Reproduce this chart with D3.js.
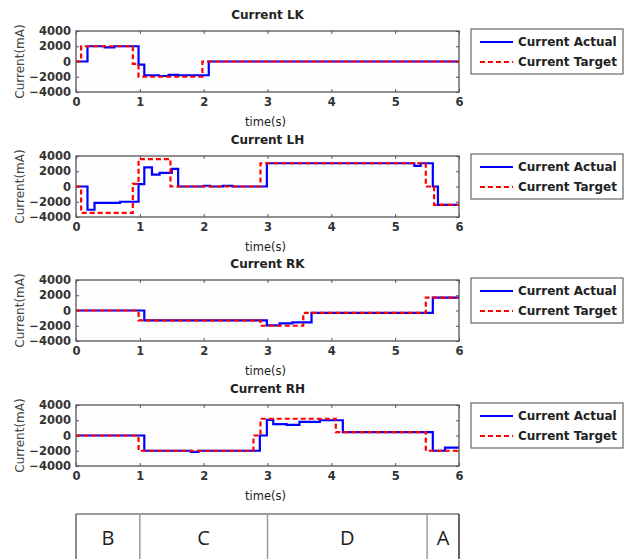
<!DOCTYPE html>
<html>
<head>
<meta charset="utf-8">
<script src="https://cdn.jsdelivr.net/npm/d3@7/dist/d3.min.js"></script>
<style>
  html, body { margin: 0; padding: 0; background: #fff; }
  svg { display: block; }
</style>
</head>
<body>
<script>
// ---- Data (step signals: [time (s), current (mA)]) ----
const panelTitles = ["Current LK", "Current LH", "Current RK", "Current RH"];
const seriesNames = ["Current Actual", "Current Target"];
const xTicks = [0, 1, 2, 3, 4, 5, 6];
const yTicks = [4000, 2000, 0, -2000, -4000];

const lkActual = [[0,0],[0.18,2000],[0.45,1850],[0.6,2000],[0.98,-400],[1.07,-1800],[1.3,-1900],[1.45,-1750],[1.6,-1800],[2.08,0],[6,0]];
const lkTarget = [[0,0],[0.08,2000],[0.89,-300],[0.98,-2000],[1.98,0],[6,0]];

const lhActual = [[0,0],[0.18,-3050],[0.29,-2150],[0.69,-2000],[0.98,300],[1.07,2500],[1.19,1550],[1.31,1800],[1.5,2300],[1.6,0],[2.0,100],[2.1,0],[2.3,100],[2.45,0],[2.99,3050],[5.3,2700],[5.4,3050],[5.59,0],[5.67,-2400],[6,-2400]];
const lhTarget = [[0,0],[0.08,-3450],[0.89,350],[0.98,3600],[1.48,0],[2.89,3050],[5.48,0],[5.61,-2400],[6,-2400]];

const rkActual = [[0,0],[1.07,-1300],[2.99,-1950],[3.19,-1700],[3.39,-1550],[3.69,-300],[5.59,1700],[6,1700]];
const rkTarget = [[0,0],[0.98,-1300],[2.89,-2000],[3.56,-300],[5.48,1700],[6,1700]];

const rhActual = [[0,0],[1.07,-2000],[1.8,-2150],[1.92,-2000],[2.88,0],[2.99,2050],[3.09,1500],[3.3,1400],[3.5,1800],[3.82,2000],[4.18,450],[5.59,-2000],[5.78,-1600],[6,-1600]];
const rhTarget = [[0,0],[0.98,-2000],[2.78,0],[2.89,2200],[4.07,450],[5.48,-2000],[6,-2000]];

const actualSeries = [lkActual, lhActual, rkActual, rhActual];
const targetSeries = [lkTarget, lhTarget, rkTarget, rhTarget];

// Phase table below the plots
const phaseLabels = ["B", "C", "D", "A"];
const phaseStarts = [0, 1, 3, 5.5];
const phaseEnds   = [1, 3, 5.5, 6];

// ---- Layout ----
const W = 635, H = 559;
const plotLeft = 76, plotRight = 459;
const panelTops = [31, 156, 280, 405];
const plotH = 61;

const svg = d3.select("body").append("svg").attr("width", W).attr("height", H)
  .style("font-family", "'DejaVu Sans', sans-serif");

const x = d3.scaleLinear().domain([0, 6]).range([plotLeft, plotRight]);

const tickColor = "#333";
const frameColor = "#555";

panelTitles.forEach((title, i) => {
  const top = panelTops[i];
  const y = d3.scaleLinear().domain([-4000, 4000]).range([top + plotH, top]);
  const g = svg.append("g");

  // plot background
  g.append("rect").attr("x", plotLeft).attr("y", top)
    .attr("width", plotRight - plotLeft).attr("height", plotH)
    .attr("fill", "#fdfdfd");

  // axes (inward ticks on all four sides)
  const axB = g.append("g").attr("transform", `translate(0,${top + plotH})`)
    .call(d3.axisBottom(x).tickValues(xTicks).tickSizeInner(-3).tickSizeOuter(0).tickPadding(7).tickFormat(d3.format("d")));
  const axT = g.append("g").attr("transform", `translate(0,${top})`)
    .call(d3.axisTop(x).tickValues(xTicks).tickSizeInner(-3).tickSizeOuter(0).tickFormat(""));
  const axL = g.append("g").attr("transform", `translate(${plotLeft},0)`)
    .call(d3.axisLeft(y).tickValues(yTicks).tickSizeInner(-3).tickSizeOuter(0).tickPadding(5).tickFormat(d3.format("d")));
  const axR = g.append("g").attr("transform", `translate(${plotRight},0)`)
    .call(d3.axisRight(y).tickValues(yTicks).tickSizeInner(-3).tickSizeOuter(0).tickFormat(""));
  [axB, axT, axL, axR].forEach(a => {
    a.select(".domain").remove();
    a.selectAll(".tick line").attr("stroke", frameColor).attr("stroke-width", 1);
    a.selectAll(".tick text").attr("fill", tickColor)
      .style("font-family", "'DejaVu Sans', sans-serif")
      .style("font-weight", "bold").style("font-size", "11.5px");
  });
  axB.selectAll(".tick text").attr("dy", "0.71em").attr("y", 6);

  // data lines
  const line = d3.line().x(d => x(d[0])).y(d => y(d[1])).curve(d3.curveStepAfter);
  g.append("path").datum(actualSeries[i]).attr("d", line)
    .attr("fill", "none").attr("stroke", "#0000ff").attr("stroke-width", 2.2);
  g.append("path").datum(targetSeries[i]).attr("d", line)
    .attr("fill", "none").attr("stroke", "#ff0000").attr("stroke-width", 2.2)
    .attr("stroke-dasharray", "5,3");

  // frame
  g.append("rect").attr("x", plotLeft).attr("y", top)
    .attr("width", plotRight - plotLeft).attr("height", plotH)
    .attr("fill", "none").attr("stroke", frameColor).attr("stroke-width", 1.3);

  // title
  g.append("text").attr("x", (plotLeft + plotRight) / 2).attr("y", top - 12)
    .attr("text-anchor", "middle").attr("fill", "#222")
    .style("font-weight", "bold").style("font-size", "12px").text(title);

  // x label
  g.append("text").attr("x", (plotLeft + plotRight) / 2 - 2).attr("y", top + plotH + 34)
    .attr("text-anchor", "middle").attr("fill", "#222")
    .style("font-size", "11.5px").text("time(s)");

  // y label
  g.append("text").attr("transform", `translate(24,${top + plotH / 2}) rotate(-90)`)
    .attr("text-anchor", "middle").attr("fill", "#444")
    .style("font-size", "12px").text("Current(mA)");

  // legend
  const lg = g.append("g").attr("transform", `translate(471,${top - 2})`);
  lg.append("rect").attr("x", 0).attr("y", 0).attr("width", 152).attr("height", 45)
    .attr("fill", "#fff").attr("stroke", "#666").attr("stroke-width", 1.2);
  seriesNames.forEach((name, k) => {
    const ly = 13 + k * 20;
    lg.append("line").attr("x1", 9).attr("x2", 42).attr("y1", ly).attr("y2", ly)
      .attr("stroke", k === 0 ? "#0000ff" : "#ff0000").attr("stroke-width", 2)
      .attr("stroke-dasharray", k === 0 ? null : "5,3");
    lg.append("text").attr("x", 47).attr("y", ly).attr("dy", "0.35em")
      .attr("fill", "#222").style("font-weight", "bold").style("font-size", "12px")
      .text(name);
  });
});

// ---- Phase table ----
const tableTop = 514;
const tg = svg.append("g");
phaseLabels.forEach((lab, k) => {
  const x0 = x(phaseStarts[k]), x1 = x(phaseEnds[k]);
  tg.append("text").attr("x", (x0 + x1) / 2).attr("y", 545)
    .attr("text-anchor", "middle").attr("fill", "#222")
    .style("font-family", "'Open Sans', sans-serif").style("font-size", "20px")
    .text(lab);
});
tg.append("line").attr("x1", x(0)).attr("x2", x(6)).attr("y1", tableTop).attr("y2", tableTop)
  .attr("stroke", "#777").attr("stroke-width", 1.5);
phaseStarts.forEach((s, k) => {
  tg.append("line").attr("x1", x(s)).attr("x2", x(s)).attr("y1", tableTop).attr("y2", H + 2)
    .attr("stroke", k === 0 ? "#666" : "#999").attr("stroke-width", 1.5);
});
tg.append("line").attr("x1", x(6)).attr("x2", x(6)).attr("y1", tableTop).attr("y2", H + 2)
  .attr("stroke", "#333").attr("stroke-width", 1.5);
</script>
</body>
</html>
